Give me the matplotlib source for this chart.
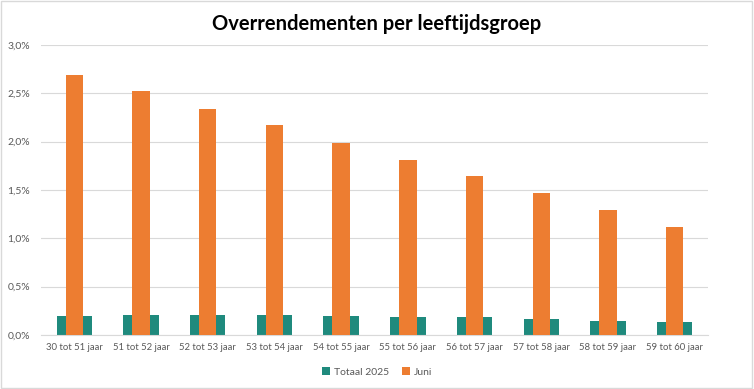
import matplotlib.pyplot as plt
import numpy as np
from matplotlib.ticker import FuncFormatter

categories = ["30 tot 51 jaar", "51 tot 52 jaar", "52 tot 53 jaar", "53 tot 54 jaar",
              "54 tot 55 jaar", "55 tot 56 jaar", "56 tot 57 jaar", "57 tot 58 jaar",
              "58 tot 59 jaar", "59 tot 60 jaar"]
totaal_2025 = [0.20, 0.21, 0.21, 0.21, 0.20, 0.19, 0.19, 0.17, 0.15, 0.13]
juni = [2.69, 2.52, 2.34, 2.17, 1.99, 1.81, 1.64, 1.47, 1.29, 1.12]

teal = "#1F8A7D"
orange = "#ED7D31"
grey = "#595959"

plt.rcParams['font.family'] = ['Lato', 'DejaVu Sans']

fig = plt.figure(figsize=(7.54, 3.89), dpi=100)
ax = fig.add_axes([41 / 754, 1 - 335 / 389, 667 / 754, 290 / 389])

x = np.arange(len(categories))
ax.bar(x, totaal_2025, width=0.53, color=teal, label="Totaal 2025", zorder=2)
ax.bar(x, juni, width=0.26, color=orange, label="Juni", zorder=3)

ax.set_xlim(-0.5, len(categories) - 0.5)
ax.set_ylim(0, 3.0)
ax.set_yticks(np.arange(0, 3.01, 0.5))
ax.yaxis.set_major_formatter(FuncFormatter(lambda v, p: f"{v:.1f}%".replace(".", ",")))
ax.set_xticks(x)
ax.set_xticklabels(categories)
ax.tick_params(axis="both", length=0, labelsize=7.5, labelcolor=grey, pad=6)
ax.tick_params(axis="x", labelsize=6.8)
ax.tick_params(axis="y", pad=8)
ax.grid(axis="y", color="#D9D9D9", linewidth=0.8, zorder=0)
for s in ["top", "right", "left"]:
    ax.spines[s].set_visible(False)
ax.spines["bottom"].set_color("#D9D9D9")

fig.suptitle("Overrendementen per leeftijdsgroep", y=0.965, fontsize=14.5, fontweight="bold")

fig.legend(loc="center", bbox_to_anchor=(0.5, 1 - 372 / 389), ncol=2,
           frameon=False, fontsize=7.5, handlelength=0.8, handleheight=0.8,
           handletextpad=0.4, columnspacing=1.2, labelcolor=grey)

fig.patches.append(plt.Rectangle((0.001, 0.002), 0.997, 0.995, transform=fig.transFigure,
                                 fill=False, edgecolor="#D9D9D9", linewidth=1))

fig.savefig("out.png", dpi=100)
